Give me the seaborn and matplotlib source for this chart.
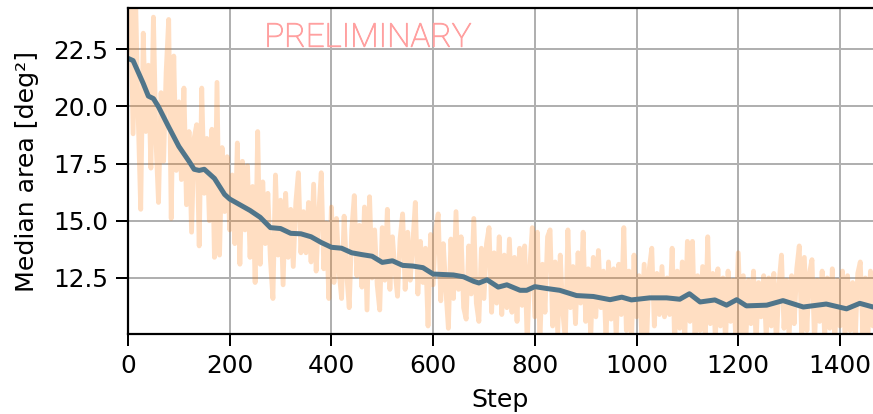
import matplotlib
matplotlib.use("Agg")
import matplotlib.pyplot as plt
import matplotlib.patheffects as pe
import seaborn as sns
import pandas as pd

# Raw per-step median area, logged every 5 steps
raw_steps = list(range(0, 1495, 5))
raw_area = [
    22.5, 24.8, 18.8, 24.6, 19.6, 15.5, 23.2, 18.9, 21.8, 17.3,
    23.9, 18.5, 15.8, 20.6, 17.6, 21.5, 23.8, 15.1, 22.2, 17.2,
    20.2, 16.8, 20.8, 15.7, 18.9, 14.5, 18.6, 19.2, 13.9, 20.8,
    16.2, 18.6, 15.0, 19.0, 13.4, 21.05, 13.5, 18.2, 15.4, 17.8,
    14.6, 17.0, 14.0, 18.4, 13.1, 17.6, 14.6, 17.4, 13.4, 16.5,
    12.3, 18.9, 13.1, 16.7, 14.0, 16.2, 13.3, 11.6, 17.0, 13.5,
    15.9, 12.2, 16.2, 13.4, 15.5, 13.0, 15.8, 17.1, 13.6, 15.4,
    13.6, 15.8, 13.2, 16.6, 12.8, 15.3, 17.1, 12.9, 14.9, 11.6,
    15.6, 12.3, 15.1, 12.8, 11.6, 15.2, 12.7, 11.2, 14.6, 16.1,
    12.6, 14.8, 12.1, 15.6, 11.1, 16.05, 12.5, 14.6, 12.2, 11.1,
    14.7, 12.4, 15.5, 12.0, 14.3, 12.8, 11.7, 14.2, 15.3, 12.0,
    14.5, 12.4, 14.0, 15.8, 11.8, 14.1, 12.3, 13.8, 10.4, 14.4,
    12.2, 14.6, 15.3, 11.5, 14.0, 12.0, 10.3, 14.2, 11.6, 15.4,
    12.0, 14.3, 11.2, 10.7, 13.9, 11.8, 15.1, 11.4, 10.6, 13.8,
    11.6, 14.0, 14.7, 11.0, 13.6, 11.4, 14.3, 10.9, 13.5, 11.2,
    14.2, 11.0, 13.4, 10.6, 13.8, 11.3, 13.9, 9.6, 12.9, 14.7,
    10.8, 14.5, 9.7, 13.1, 11.0, 14.3, 14.6, 10.4, 13.2, 10.1,
    13.5, 11.0, 9.8, 14.6, 11.2, 13.0, 10.5, 13.6, 11.4, 14.5,
    10.6, 12.9, 9.9, 13.4, 10.8, 13.7, 11.2, 12.8, 9.8, 13.2,
    10.7, 12.9, 9.9, 13.1, 10.9, 14.7, 10.2, 12.8, 9.7, 13.5,
    10.8, 12.6, 10.1, 13.1, 9.8, 12.9, 13.8, 10.4, 12.7, 10.9,
    13.0, 10.8, 12.5, 10.9, 13.8, 9.7, 12.8, 10.3, 13.2, 9.9,
    14.1, 10.6, 14.1, 9.8, 12.6, 10.2, 13.0, 9.9, 14.3, 10.5,
    12.7, 9.8, 12.9, 10.4, 12.5, 9.7, 12.8, 10.6, 12.4, 9.9,
    13.6, 10.1, 12.6, 9.8, 12.4, 10.5, 12.8, 9.7, 12.3, 10.8,
    12.6, 9.9, 12.5, 10.4, 12.7, 9.6, 12.2, 13.5, 10.3, 12.4,
    9.9, 12.6, 10.5, 12.9, 13.9, 9.8, 13.4, 10.2, 12.7, 13.3,
    9.7, 12.4, 10.6, 12.8, 9.9, 12.5, 10.3, 12.9, 9.8, 12.4,
    10.4, 12.8, 9.9, 12.6, 10.2, 12.3, 9.8, 12.7, 13.2, 10.1,
    12.5, 9.9, 12.8, 10.4, 12.3, 10.0, 12.6, 10.3, 12.4,
]

# Smoothed trend of the same metric
smooth_steps = [
    0, 10, 20, 30, 40, 50, 60, 80, 100, 120, 130, 140, 150, 170, 190, 200,
    220, 240, 260, 280, 300, 320, 340, 360, 380, 400, 420, 440, 460, 480,
    500, 520, 540, 560, 580, 600, 620, 640, 660, 680, 690, 706, 728, 745,
    771, 784, 800, 823, 849, 882, 915, 948, 971, 990, 1026, 1059, 1085,
    1104, 1125, 1154, 1177, 1197, 1216, 1256, 1288, 1328, 1373, 1413,
    1439, 1465, 1490,
]
smooth_area = [
    22.1, 22.0, 21.5, 21.0, 20.45, 20.34, 19.98, 19.1, 18.25, 17.6, 17.25,
    17.2, 17.25, 16.85, 16.15, 15.95, 15.7, 15.45, 15.15, 14.7, 14.66,
    14.45, 14.43, 14.3, 14.05, 13.84, 13.8, 13.6, 13.52, 13.45, 13.18,
    13.25, 13.05, 13.02, 12.95, 12.67, 12.65, 12.63, 12.55, 12.35, 12.28,
    12.42, 12.10, 12.2, 11.96, 11.96, 12.12, 12.04, 11.96, 11.73, 11.69,
    11.55, 11.66, 11.54, 11.63, 11.63, 11.57, 11.81, 11.45, 11.54, 11.31,
    11.55, 11.28, 11.31, 11.51, 11.23, 11.36, 11.15, 11.39, 11.23, 11.3,
]

y_ticks = [12.5, 15.0, 17.5, 20.0, 22.5]
x_ticks = [0, 200, 400, 600, 800, 1000, 1200, 1400]

raw_df = pd.DataFrame({"Step": raw_steps, "area": raw_area})
smooth_df = pd.DataFrame({"Step": smooth_steps, "area": smooth_area})

plt.rcParams["font.family"] = ["DejaVu Sans"]
fig = plt.figure(figsize=(873 / 144, 414 / 144), dpi=144)
ax = fig.add_axes([128 / 873, 80 / 414, 745 / 873, 326 / 414])
ax.set_axisbelow(True)
ax.grid(True, color="#b0b0b0", linewidth=1.0)

sns.lineplot(data=raw_df, x="Step", y="area", ax=ax, color="#ff7f0e",
             alpha=0.25, linewidth=2.4)
sns.lineplot(data=smooth_df, x="Step", y="area", ax=ax, color="#50758a",
             linewidth=2.5)

ax.set_xlim(0, 1465)
ax.set_ylim(10.05, 24.3)
ax.set_xticks(x_ticks)
ax.set_yticks(y_ticks)
ax.tick_params(length=6, width=1.0, labelsize=12.4, pad=4)
for side in ("left", "bottom", "top"):
    ax.spines[side].set_linewidth(1.1)
    ax.spines[side].set_color("black")
ax.spines["right"].set_visible(False)

ax.set_xlabel("Step", fontsize=12.6, labelpad=5)
ax.set_ylabel("Median area [deg²]", fontsize=12.6, labelpad=7)

watermark_color = "#ffa0a0"
ax.text(472, 23.0, "PRELIMINARY", ha="center", va="center", fontsize=16.5,
        color=watermark_color, family=["Roboto", "DejaVu Sans"],
        fontweight="light",
        path_effects=[pe.withStroke(linewidth=0.45, foreground=watermark_color)])

fig.savefig("out.png", dpi=144)
